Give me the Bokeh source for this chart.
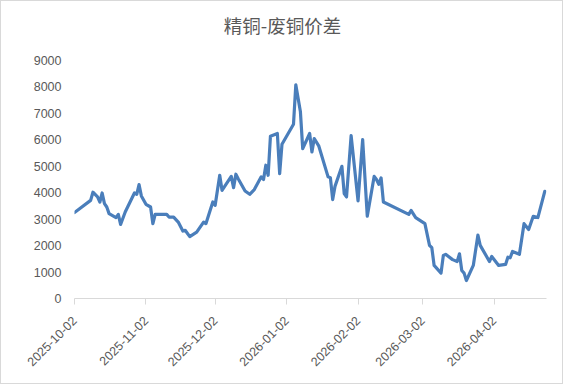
from math import pi
import pandas as pd
from bokeh.plotting import figure
from bokeh.models import FixedTicker, Range1d, ColumnDataSource, DatetimeTickFormatter, Label
from bokeh.embed import file_html
from bokeh.resources import INLINE

title_text = "精铜-废铜价差"

dates = [
    "2025-10-02", "2025-10-09", "2025-10-10", "2025-10-12", "2025-10-13", "2025-10-14",
    "2025-10-15", "2025-10-16", "2025-10-17", "2025-10-20", "2025-10-21", "2025-10-22",
    "2025-10-24", "2025-10-28", "2025-10-29", "2025-10-30", "2025-10-31", "2025-11-02",
    "2025-11-04", "2025-11-05", "2025-11-06", "2025-11-11", "2025-11-12", "2025-11-14",
    "2025-11-16", "2025-11-18", "2025-11-19", "2025-11-21", "2025-11-24", "2025-11-27",
    "2025-11-28", "2025-12-01", "2025-12-02", "2025-12-04", "2025-12-05", "2025-12-09",
    "2025-12-10", "2025-12-11", "2025-12-12", "2025-12-15", "2025-12-17", "2025-12-19",
    "2025-12-22", "2025-12-23", "2025-12-24", "2025-12-25", "2025-12-26", "2025-12-29",
    "2025-12-30", "2025-12-31", "2026-01-05", "2026-01-06", "2026-01-08", "2026-01-09",
    "2026-01-12", "2026-01-13", "2026-01-14", "2026-01-16", "2026-01-20", "2026-01-21",
    "2026-01-22", "2026-01-23", "2026-01-26", "2026-01-27", "2026-01-28", "2026-01-30",
    "2026-02-02", "2026-02-04", "2026-02-06", "2026-02-09", "2026-02-10", "2026-02-11",
    "2026-02-12", "2026-02-13", "2026-02-24", "2026-02-25", "2026-02-27", "2026-03-03",
    "2026-03-05", "2026-03-06", "2026-03-07", "2026-03-10", "2026-03-11", "2026-03-12",
    "2026-03-15", "2026-03-17", "2026-03-18", "2026-03-19", "2026-03-20", "2026-03-21",
    "2026-03-24", "2026-03-26", "2026-03-27", "2026-03-31", "2026-04-01", "2026-04-04",
    "2026-04-07", "2026-04-08", "2026-04-09", "2026-04-10", "2026-04-13", "2026-04-15",
    "2026-04-17", "2026-04-19", "2026-04-21", "2026-04-24",
]

spread = [
    3250, 3710, 4020, 3840, 3650, 3990,
    3590, 3460, 3210, 3060, 3180, 2800,
    3270, 3990, 3940, 4310, 3880, 3560,
    3460, 2830, 3180, 3180, 3080, 3080,
    2890, 2550, 2580, 2340, 2510, 2890,
    2830, 3650, 3520, 4660, 4090, 4620,
    4190, 4700, 4530, 4065, 3940, 4120,
    4600, 4500, 5040, 4660, 6140, 6240,
    4720, 5830, 6590, 8080, 7060, 5670,
    6240, 5540, 6050, 5760, 4600, 4570,
    3740, 4240, 5000, 3970, 3840, 6160,
    3690, 6010, 3110, 4620, 4500, 4320,
    4560, 3650, 3180, 3330, 3060, 2830,
    2010, 1920, 1250, 960, 1630, 1670,
    1470, 1400, 1690, 1060, 960, 680,
    1250, 2400, 2010, 1400, 1590, 1250,
    1290, 1560, 1540, 1780, 1670, 2830,
    2610, 3110, 3060, 4050,
]

x_tick_labels = ["2025-10-02", "2025-11-02", "2025-12-02", "2026-01-02",
                 "2026-02-02", "2026-03-02", "2026-04-02"]
y_ticks = [0, 1000, 2000, 3000, 4000, 5000, 6000, 7000, 8000, 9000]

df = pd.DataFrame({"date": pd.to_datetime(dates), "value": spread})
src = ColumnDataSource(df)

x_start = pd.Timestamp("2025-10-02")
x_end = pd.Timestamp("2026-04-24 18:00")

# frame spans page y 10..298; the value 9000 sits at page y 60
frame_h = 288
y_top = 9000 * frame_h / 238.0

p = figure(width=563, height=384, x_axis_type="datetime",
           output_backend="svg", toolbar_location=None,
           x_range=Range1d(x_start, x_end), y_range=Range1d(0, y_top),
           min_border_left=73, min_border_right=18,
           min_border_top=9, min_border_bottom=87)
p.styles = {"border": "1px solid #d9d9d9"}

p.line("date", "value", source=src, line_color="#4a7ebb", line_width=3.2,
       line_join="round", line_cap="round")

title = Label(x=208, y=frame_h - 14, x_units="screen", y_units="screen",
              text=title_text, text_align="center", text_baseline="middle",
              text_font="Noto Sans CJK SC", text_font_size="18.5px",
              text_color="#595959")
p.add_layout(title)

p.xgrid.visible = False
p.ygrid.visible = False
p.outline_line_color = None
p.background_fill_color = "white"
p.border_fill_color = "white"

tick_ms = [pd.Timestamp(t).value / 1e6 for t in x_tick_labels]
p.xaxis.ticker = FixedTicker(ticks=tick_ms)
fmt = "%Y-%m-%d"
p.xaxis.formatter = DatetimeTickFormatter(days=fmt, months=fmt, years=fmt,
                                          hours=fmt, minutes=fmt, seconds=fmt,
                                          milliseconds=fmt, microseconds=fmt,
                                          minsec=fmt, hourmin=fmt)
p.xaxis.major_label_orientation = pi / 4
p.xaxis.axis_line_color = "#d9d9d9"
p.xaxis.axis_line_width = 1
p.xaxis.major_tick_line_color = "#d9d9d9"
p.xaxis.major_tick_out = 6
p.xaxis.major_tick_in = 0
p.xaxis.minor_tick_line_color = None
p.xaxis.major_label_text_font = "Liberation Sans"
p.xaxis.major_label_text_font_size = "12.5px"
p.xaxis.major_label_text_color = "#595959"
p.xaxis.major_label_standoff = 14

p.yaxis.ticker = FixedTicker(ticks=y_ticks)
p.yaxis.axis_line_color = None
p.yaxis.major_tick_line_color = None
p.yaxis.minor_tick_line_color = None
p.yaxis.major_label_text_font = "Liberation Sans"
p.yaxis.major_label_text_font_size = "12.5px"
p.yaxis.major_label_text_color = "#595959"
p.yaxis.major_label_standoff = 7

open("out.html", "w").write(file_html(p, INLINE))
